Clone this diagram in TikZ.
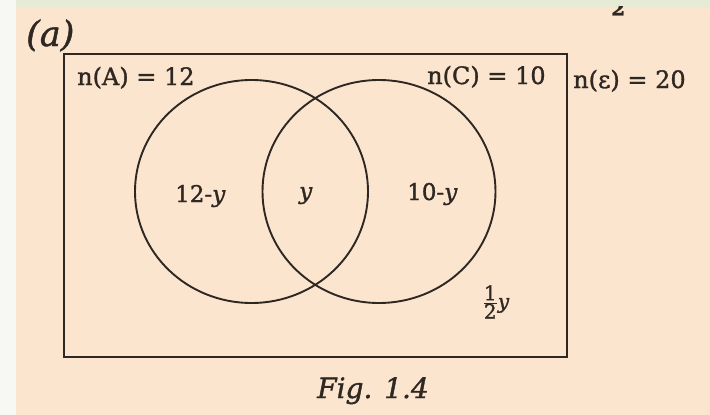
\documentclass[tikz,border=0pt]{standalone}
\usepackage{fontspec}
\setmainfont{DejaVu Serif}[FakeBold=1.3]
\usetikzlibrary{shapes.geometric}
\definecolor{peach}{HTML}{FCE5CF}
\definecolor{topgreen}{HTML}{E5EBD4}
\definecolor{leftwhite}{HTML}{F7F8F3}
\definecolor{ink}{HTML}{2E2722}
\tikzset{
  lbl/.style={anchor=base west, inner sep=0pt, text=ink, font=\fontsize{24}{24}\selectfont},
  reg/.style={anchor=base west, inner sep=0pt, text=ink, font=\fontsize{23}{23}\selectfont},
  setcirc/.style={draw=ink, line width=1.9pt, ellipse, minimum width=233pt, minimum height=223pt, inner sep=0pt},
  univ/.style={draw=ink, line width=2.5pt, rectangle, minimum width=503pt, minimum height=303pt, inner sep=0pt}
}
\begin{document}
\begin{tikzpicture}[x=1pt,y=-1pt]
\useasboundingbox (0,0) rectangle (710,415);
\fill[peach] (0,0) rectangle (710,415);
\fill[leftwhite] (0,0) rectangle (16,415);
\fill[topgreen] (16,0) rectangle (710,6.5);
% clipped fragment at top
\begin{scope}
\clip (16,6.5) rectangle (710,40);
\node[anchor=base west, inner sep=0pt, text=ink, font=\fontsize{20}{20}\selectfont\bfseries] (frag) at (611,15.5) {2};
\end{scope}
\node[anchor=base west, inner sep=0pt, text=ink, font=\fontsize{35}{35}\selectfont\itshape] (cap) at (26,46) {(a)};
\node[univ] (U) at (315.5,205.5) {};
\node[setcirc] (A) at (251.5,191.5) {};
\node[setcirc] (C) at (379,191.5) {};
\node[lbl] (nA) at (77,85) {n(A) = 12};
\node[lbl] (nC) at (427,84) {n(C) = 10};
\node[lbl] (nE) at (573,88) {n(ε) = 20};
\node[reg] (a1) at (175,202) {12-\textit{y}};
\node[reg] (a2) at (299,199) {\textit{y}};
\node[reg] (a3) at (407,200) {10-\textit{y}};
\node[anchor=center, inner sep=0pt, text=ink, font=\fontsize{20}{20}\selectfont] (half) at (496,302) {$\frac{\textrm{1}}{\textrm{2}}$\textit{y}};
\node[anchor=base west, inner sep=0pt, text=ink, font=\fontsize{28}{28}\selectfont\itshape] (fig) at (317,398) {Fig. 1.4};
\end{tikzpicture}
\end{document}
